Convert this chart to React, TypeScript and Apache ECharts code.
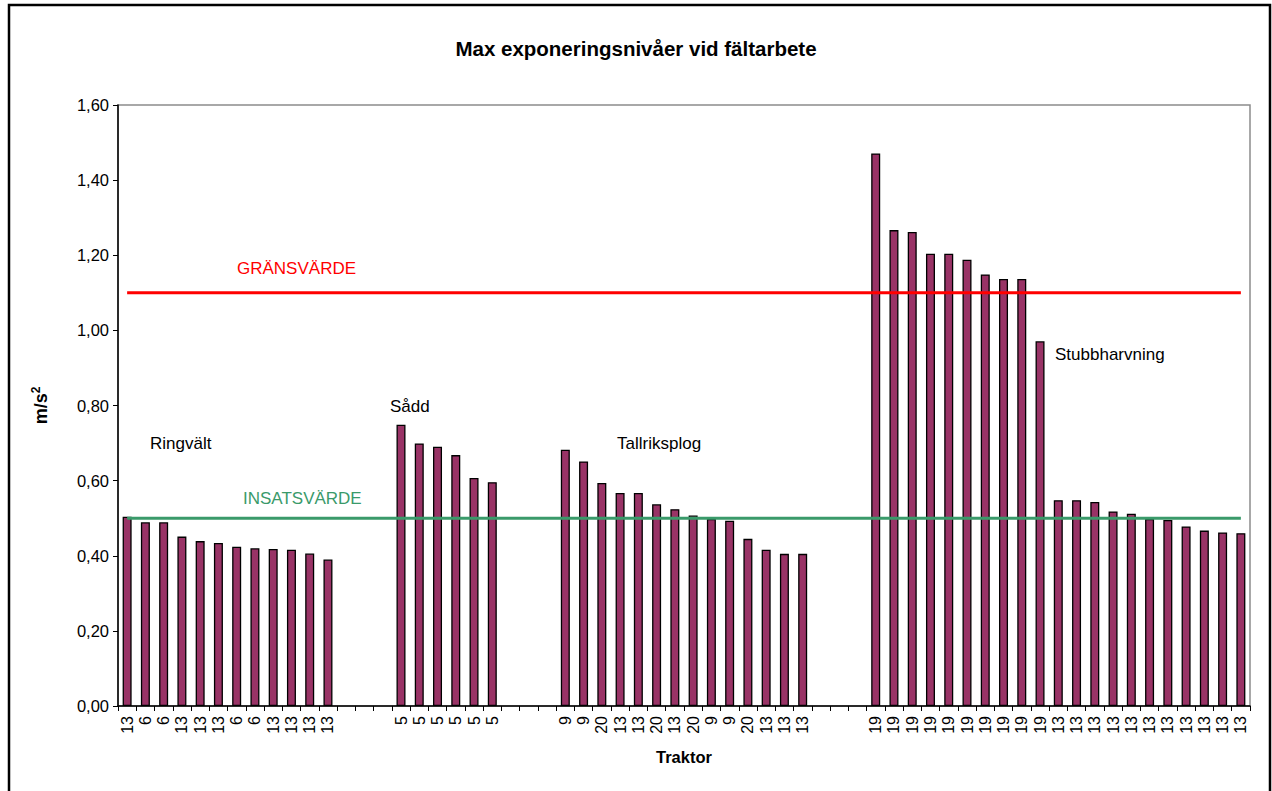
import React, { useEffect, useRef } from 'react';
import * as echarts from 'echarts';

// Tractor labels per work type
const ringvaltTraktor = ['13', '6', '6', '13', '13', '13', '6', '6', '13', '13', '13', '13'];
const saddTraktor = ['5', '5', '5', '5', '5', '5'];
const tallriksplogTraktor = ['9', '9', '20', '13', '13', '20', '13', '20', '9', '9', '20', '13', '13', '13'];
const stubbharvningTraktor = ['19', '19', '19', '19', '19', '19', '19', '19', '19', '19', '13', '13', '13', '13', '13', '13', '13', '13', '13', '13', '13'];

// Max exposure values (m/s²)
const ringvaltValues = [0.504, 0.489, 0.489, 0.451, 0.439, 0.434, 0.424, 0.42, 0.418, 0.416, 0.406, 0.39];
const saddValues = [0.749, 0.699, 0.69, 0.668, 0.607, 0.596];
const tallriksplogValues = [0.682, 0.651, 0.594, 0.567, 0.567, 0.537, 0.524, 0.507, 0.498, 0.493, 0.445, 0.416, 0.405, 0.405];
const stubbharvningValues = [1.471, 1.267, 1.262, 1.204, 1.204, 1.188, 1.149, 1.137, 1.137, 0.971, 0.548, 0.548, 0.543, 0.518, 0.512, 0.498, 0.495, 0.478, 0.467, 0.462, 0.46];

const gapLabels = ['', '', ''];
const gapValues = [null, null, null];

const GRANSVARDE = 1.1;
const INSATSVARDE = 0.5;

const yTicks = ['0,00', '0,20', '0,40', '0,60', '0,80', '1,00', '1,20', '1,40', '1,60'];

const categories = [
  ...ringvaltTraktor, ...gapLabels,
  ...saddTraktor, ...gapLabels,
  ...tallriksplogTraktor, ...gapLabels,
  ...stubbharvningTraktor,
];
const barValues = [
  ...ringvaltValues, ...gapValues,
  ...saddValues, ...gapValues,
  ...tallriksplogValues, ...gapValues,
  ...stubbharvningValues,
];

const FONT = '"Liberation Sans", Arial, Helvetica, sans-serif';

export default function App() {
  const ref = useRef<HTMLDivElement>(null);
  useEffect(() => {
    const chart = echarts.init(ref.current!, null, { renderer: 'svg' });
    const annot = (text: string, x: number, y: number, fill = '#000') => ({
      type: 'text',
      x,
      y,
      silent: true,
      z: 10,
      style: {
        text,
        fill,
        font: `17px ${FONT}`,
        align: 'left',
        verticalAlign: 'middle',
      },
    });
    chart.setOption({
      animation: false,
      backgroundColor: '#ffffff',
      textStyle: { fontFamily: FONT },
      title: {
        text: 'Max exponeringsnivåer vid fältarbete',
        left: 'center',
        top: 33,
        textStyle: { fontSize: 20.5, fontWeight: 'bold', color: '#000', fontFamily: FONT },
      },
      grid: {
        left: 118,
        top: 105,
        right: 22,
        bottom: 85,
        show: true,
        borderColor: '#8c8c8c',
        borderWidth: 1.5,
        backgroundColor: 'transparent',
      },
      xAxis: {
        type: 'category',
        data: categories,
        boundaryGap: true,
        name: 'Traktor',
        nameLocation: 'middle',
        nameGap: 42,
        nameTextStyle: { fontSize: 16.5, fontWeight: 'bold', color: '#000', fontFamily: FONT },
        axisLine: { lineStyle: { color: '#000', width: 1.5 } },
        axisTick: { show: true, length: 5, inside: false, interval: 0, lineStyle: { color: '#000', width: 1 } },
        axisLabel: { interval: 0, rotate: 90, fontSize: 16, color: '#000', margin: 10, fontFamily: FONT },
        splitLine: { show: false },
      },
      yAxis: {
        type: 'value',
        min: 0,
        max: 1.6,
        interval: 0.2,
        name: 'm/s{sup|2}',
        nameLocation: 'middle',
        nameRotate: 90,
        nameGap: 66,
        nameTextStyle: {
          fontSize: 18,
          fontWeight: 'bold',
          color: '#000',
          fontFamily: FONT,
          rich: {
            sup: { fontSize: 12, fontWeight: 'bold', color: '#000', fontFamily: FONT, verticalAlign: 'top', padding: [0, 0, 10, 0] },
          },
        },
        axisLine: { show: true, lineStyle: { color: '#000', width: 1.5 } },
        axisTick: { show: true, length: 5, inside: false, lineStyle: { color: '#000', width: 1 } },
        axisLabel: {
          fontSize: 16.5,
          color: '#000',
          margin: 9,
          fontFamily: FONT,
          formatter: (v: number) => yTicks[Math.round(v / 0.2)] ?? '',
        },
        splitLine: { show: false },
      },
      series: [
        {
          type: 'bar',
          data: barValues,
          barWidth: 9,
          itemStyle: { color: '#993366', borderColor: '#000', borderWidth: 1.3 },
          silent: true,
          z: 2,
        },
        {
          type: 'line',
          data: categories.map(() => GRANSVARDE),
          symbol: 'none',
          lineStyle: { color: '#ff0000', width: 3 },
          silent: true,
          z: 5,
        },
        {
          type: 'line',
          data: categories.map(() => INSATSVARDE),
          symbol: 'none',
          lineStyle: { color: '#3a9a6a', width: 3 },
          silent: true,
          z: 5,
        },
      ],
      graphic: [
        {
          type: 'rect',
          silent: true,
          z: 20,
          shape: { x: 9, y: 5, width: 1261, height: 800 },
          style: { fill: 'none', stroke: '#000', lineWidth: 2.5 },
        },
        annot('Ringvält', 150, 443),
        annot('Sådd', 390, 406),
        annot('Tallriksplog', 617, 443),
        annot('Stubbharvning', 1055, 354),
        annot('GRÄNSVÄRDE', 237, 268, '#ff0000'),
        annot('INSATSVÄRDE', 243, 498, '#3a9a6a'),
      ],
    });
    return () => chart.dispose();
  }, []);
  return (
    <div
      ref={ref}
      style={{ position: 'fixed', left: 0, top: 0, width: 1272, height: 791, background: '#fff' }}
    />
  );
}
